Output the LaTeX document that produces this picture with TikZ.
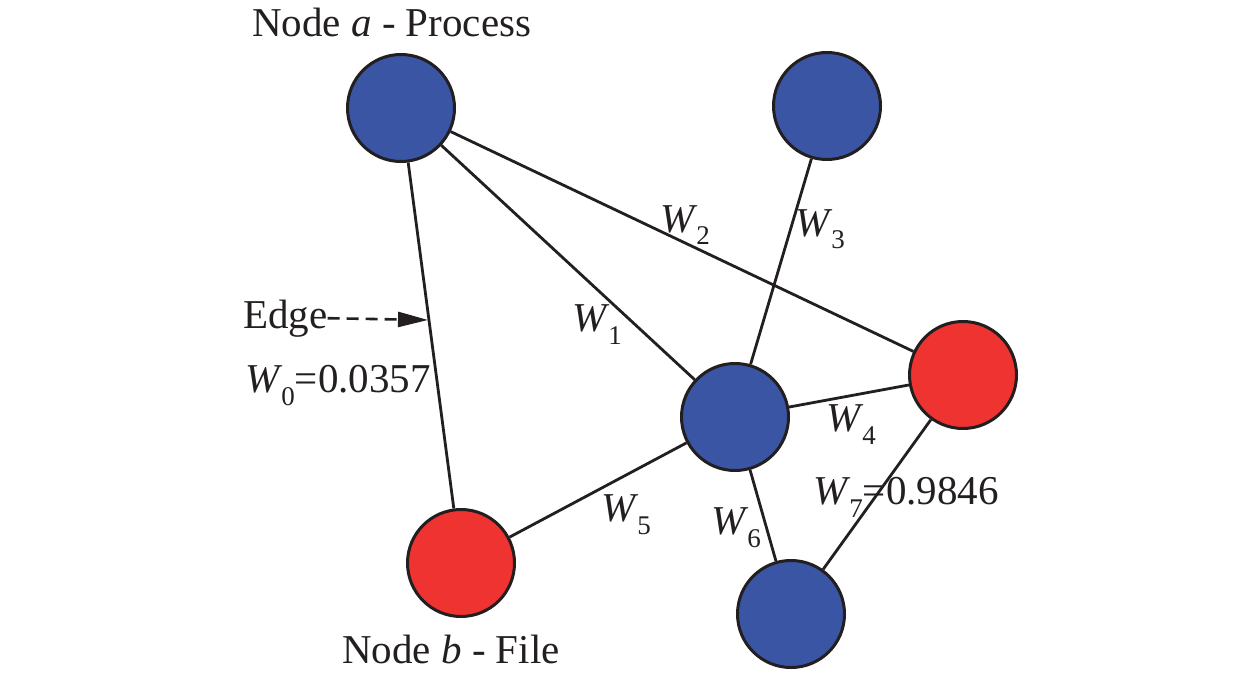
\documentclass[tikz,border=0pt]{standalone}
\usepackage{fontspec}
\setmainfont{Liberation Serif}
\usetikzlibrary{arrows.meta}
\definecolor{nblue}{HTML}{3B55A5}
\definecolor{nred}{HTML}{EE3331}
\definecolor{ink}{HTML}{231F20}
\newcommand{\Wl}[1]{\textit{W}\kern-1pt\raisebox{-13pt}{\fontsize{27}{27}\selectfont #1}}
\begin{document}
\begin{tikzpicture}[x=1pt,y=-1pt,
  vert/.style={circle, draw=ink, line width=3pt, minimum size=107pt, inner sep=0pt},
  bnode/.style={vert, fill=nblue},
  rnode/.style={vert, fill=nred},
  link/.style={draw=ink, line width=2.8pt},
  lbl/.style={font=\fontsize{41}{49}\selectfont, inner sep=0pt, anchor=base west, text=ink},
  pointer/.style={draw=ink, line width=2.6pt, dash pattern=on 12pt off 7pt, -{Triangle[length=30pt,width=15pt]}}]
\useasboundingbox (0,0) rectangle (1260,679);
\node[bnode] (a) at (401,108) {};
\node[bnode] (t) at (827,106) {};
\node[bnode] (c) at (735,417) {};
\node[rnode] (r) at (963,375) {};
\node[rnode] (b) at (461,563) {};
\node[bnode] (d) at (791,614) {};
\draw[link] (a) -- (b);
\draw[link] (a) -- (c);
\draw[link] (a) -- (r);
\draw[link] (t) -- (c);
\draw[link] (c) -- (r);
\draw[link] (c) -- (b);
\draw[link] (c) -- (d);
\draw[link] (r) -- (d);
\node[lbl] (ta) at (252,37) {Node \textit{a} - Process};
\node[lbl] (tb) at (342,663) {Node \textit{b} - File};
\node[lbl] (edg) at (243,328) {Edge};
\coordinate (tip) at (428,320);
\draw[pointer] (edg.east) -- (tip);
\node[lbl] (w0) at (245,392) {\Wl{0}=0.0357};
\node[lbl] (w1) at (572,331) {\Wl{1}};
\node[lbl] (w2) at (660,232) {\Wl{2}};
\node[lbl] (w3) at (795,236) {\Wl{3}};
\node[lbl] (w4) at (826,431) {\Wl{4}};
\node[lbl] (w5) at (601,521) {\Wl{5}};
\node[lbl] (w6) at (711,534) {\Wl{6}};
\node[lbl] (w7) at (813,504) {\Wl{7}=0.9846};
\end{tikzpicture}
\end{document}
